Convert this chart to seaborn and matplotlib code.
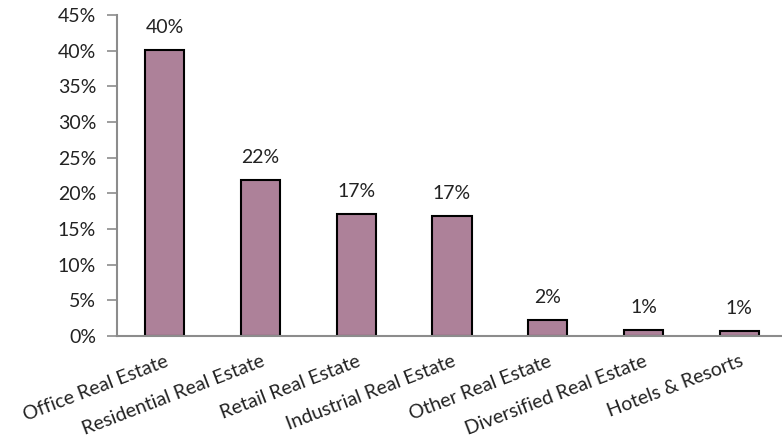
import matplotlib
matplotlib.use("Agg")
import matplotlib.pyplot as plt
import seaborn as sns
import pandas as pd

categories = ["Office Real Estate", "Residential Real Estate", "Retail Real Estate",
              "Industrial Real Estate", "Other Real Estate", "Diversified Real Estate",
              "Hotels & Resorts"]
values = [40.1, 21.9, 17.1, 16.8, 2.2, 0.8, 0.7]
labels = ["40%", "22%", "17%", "17%", "2%", "1%", "1%"]
yticks = [0, 5, 10, 15, 20, 25, 30, 35, 40, 45]

sns.set_theme(style="white")
plt.rcParams['font.family'] = ['Lato', 'DejaVu Sans']

df = pd.DataFrame({"cat": categories, "val": values})

fig = plt.figure(figsize=(7.82, 4.37), dpi=100)
ax = fig.add_axes([117/782, 101/437, 670/782, 321/437])
sns.barplot(data=df, x="cat", y="val", color="#AD8199", edgecolor="black",
            linewidth=1.5, width=0.41, saturation=1, ax=ax)

for i, (v, lab) in enumerate(zip(values, labels)):
    ax.text(i, v + 2.0, lab, ha="center", va="bottom", fontsize=14, color="#222222")

ax.set_ylim(0, 45)
ax.set_xlim(-0.5, 6.5)
ax.set_yticks(yticks)
ax.set_yticklabels([f"{t}%" for t in yticks], fontsize=14, color="#222222")
ax.set_xticks(range(len(categories)))
ax.set_xticklabels(categories, rotation=21, ha="right", rotation_mode="anchor",
                   fontsize=14, color="#222222")
ax.set_xlabel("")
ax.set_ylabel("")
for s in ["top", "right"]:
    ax.spines[s].set_visible(False)
for s in ["left", "bottom"]:
    ax.spines[s].set_color("#8c8c8c")
    ax.spines[s].set_linewidth(1.5)
ax.tick_params(axis="y", which="both", left=True, length=7, width=1.2, color="#8c8c8c", pad=8)
ax.tick_params(axis="x", which="both", bottom=False, pad=6)

fig.savefig("out.png", dpi=100)
